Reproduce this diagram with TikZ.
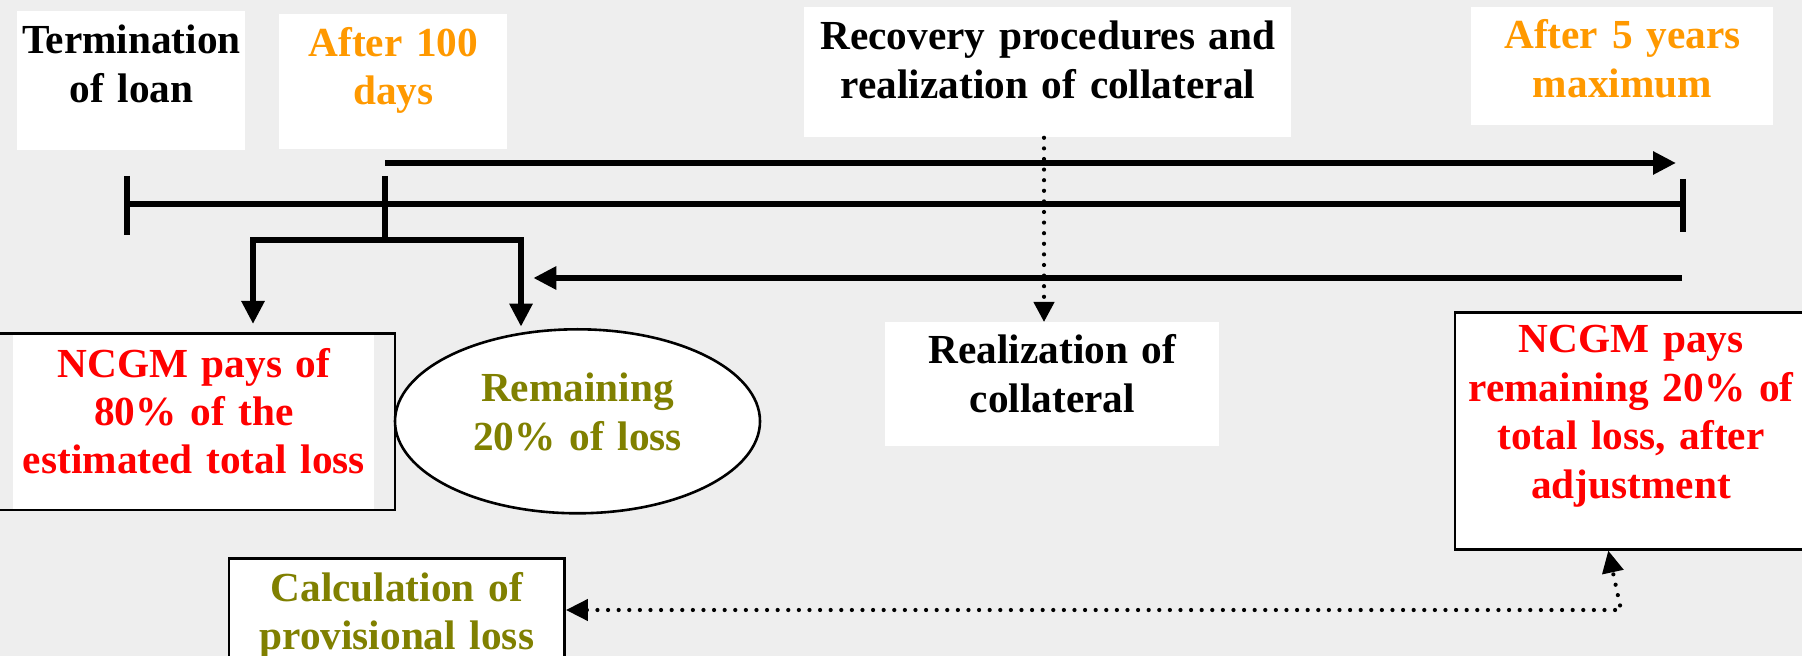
\documentclass[tikz,border=0pt]{standalone}
\usepackage{fontspec}
\setmainfont{Liberation Serif}
\usetikzlibrary{arrows.meta,shapes.geometric}

\definecolor{bggray}{RGB}{238,238,238}
\definecolor{ncorange}{RGB}{255,153,0}
\definecolor{ncred}{RGB}{255,0,0}
\definecolor{ncolive}{RGB}{128,128,0}

\tikzset{
  tbox/.style={fill=white, inner sep=0pt, align=center, anchor=north west,
    font=\fontsize{20.65}{24.2}\selectfont\bfseries},
  framed/.style={draw, line width=1.3pt},
  thickline/.style={line width=3.2pt},
  bigarrow/.style={line width=3.2pt, -{Triangle[length=11.5pt,width=11pt]}},
  dotline/.style={line width=2.1pt, line cap=round, dash pattern=on 0pt off 5.3pt},
}

\begin{document}
\begin{tikzpicture}[x=0.5pt,y=-0.5pt]
  \useasboundingbox (0,0) rectangle (1802,656);
  \clip (0,0) rectangle (1802,656);
  \fill[bggray] (0,0) rectangle (1802,656);

  % labels above the time line
  \node[tbox, text width=114pt, text height=21.15pt, text depth=48.35pt] (term) at (17,11) {Termination\\of loan};
  \node[tbox, text=ncorange, text width=114pt, text height=20.85pt, text depth=46.65pt] (after100) at (279,14) {After 100\\days};
  \node[tbox, text width=243.5pt, text height=21.15pt, text depth=43.85pt] (recov) at (804,7) {Recovery procedures and\\realization of collateral};
  \node[tbox, text=ncorange, text width=151pt, text height=20.65pt, text depth=38.35pt] (after5) at (1471,7) {After 5 years\\maximum};

  % boxes below
  \node[tbox, text=ncred, text width=180.5pt, text height=22.35pt, text depth=67.15pt] (ncgm80) at (13,332) {NCGM pays of\\80\% of the\\estimated total loss};
  \draw[line width=1.3pt] (-10,333.7) rectangle (395,510);
  \node[ellipse, draw, line width=1.3pt, fill=white, text=ncolive, inner sep=0pt, align=center,
    font=\fontsize{20.65}{24.2}\selectfont\bfseries, text width=110pt, text height=18.5pt, text depth=38.1pt,
    minimum width=182.5pt, minimum height=92pt] (remain) at (577.5,421.3) {Remaining\\20\% of loss};
  \node[tbox, framed, text=ncolive, text width=167.8pt, text height=21.35pt, text depth=48pt] (calc) at (227.7,557.3) {Calculation of\\provisional loss};
  \node[tbox, text width=167pt, text height=20.65pt, text depth=41.2pt] (realiz) at (885,322) {Realization of\\collateral};
  \node[tbox, framed, text=ncred, text width=176.25pt, text height=20.2pt, text depth=98.15pt] (ncgm20) at (1453.5,311.3) {NCGM pays\\remaining 20\% of\\total loss, after\\adjustment};

  % time line
  \coordinate (t0) at (127,204);
  \coordinate (t1) at (385,204);
  \coordinate (t2) at (1683,204);
  \coordinate (fork) at (385,240);
  \draw[thickline] (t0) -- (t2);
  \draw[thickline] (127,176) -- (127,235);
  \draw[thickline] (1683,179) -- (1683,232);
  \draw[thickline] (385,176) -- (fork);

  \coordinate (d80) at (253,324);
  \coordinate (d20) at (521,326.7);
  \draw[bigarrow] (fork) -| (d80);
  \draw[bigarrow] (fork) -| (d20);

  \coordinate (up0) at (385,163);
  \coordinate (up1) at (1676,163);
  \draw[bigarrow] (up0) -- (up1);
  \coordinate (lo0) at (1682,278);
  \coordinate (lo1) at (533.3,278);
  \draw[bigarrow] (lo0) -- (lo1);

  % dotted links
  \coordinate (dx) at (1044,0);
  \draw[dotline, -{Triangle[length=10pt,width=10pt]}] (recov.south -| dx) -- (realiz.north -| dx);
  \coordinate (crn) at (1621,610);
  \draw[dotline, {Triangle[length=11pt,width=10.5pt]}-{Triangle[length=11pt,width=10.5pt]}]
    (calc.east |- crn) -- (crn) -- ([xshift=-11.4pt]ncgm20.south);
\end{tikzpicture}
\end{document}
